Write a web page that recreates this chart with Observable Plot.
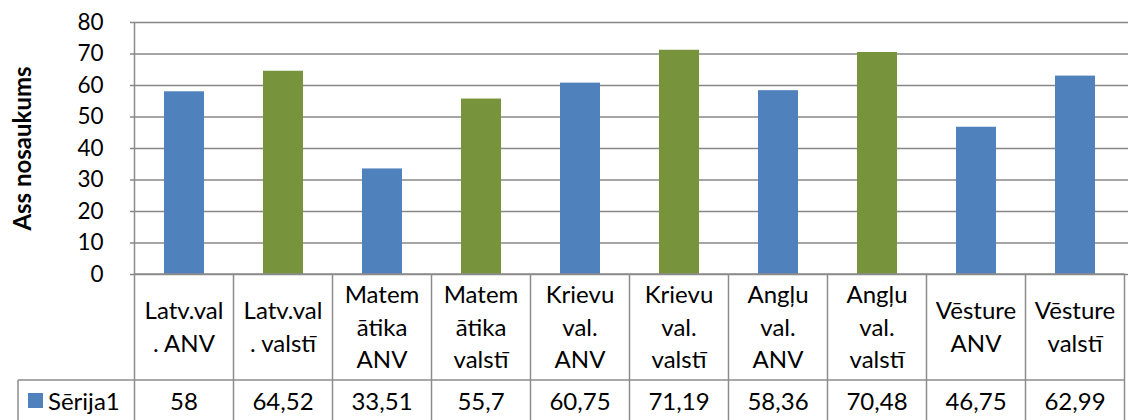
<!DOCTYPE html>
<html><head><meta charset="utf-8">
<script src="https://cdn.jsdelivr.net/npm/d3@7"></script>
<script src="https://cdn.jsdelivr.net/npm/@observablehq/plot@0.6"></script>
<style>body{margin:0;background:#fff}</style>
</head><body><div id="chart"></div>
<script>
const categories = ["Latv.val\n. ANV", "Latv.val\n. valstī", "Matem\nātika\nANV", "Matem\nātika\nvalstī", "Krievu\nval.\nANV", "Krievu\nval.\nvalstī", "Angļu\nval.\nANV", "Angļu\nval.\nvalstī", "Vēsture\nANV", "Vēsture\nvalstī"];
const values = [58, 64.52, 33.51, 55.7, 60.75, 71.19, 58.36, 70.48, 46.75, 62.99];
const valueLabels = ["58", "64,52", "33,51", "55,7", "60,75", "71,19", "58,36", "70,48", "46,75", "62,99"];
const barColors = ["#4F81BD", "#77933C", "#4F81BD", "#77933C", "#4F81BD", "#77933C", "#4F81BD", "#77933C", "#4F81BD", "#4F81BD"];
const seriesName = "Sērija1";
const seriesColor = "#4F81BD";
const yTicks = [0, 10, 20, 30, 40, 50, 60, 70, 80];
const axisTitle = "Ass nosaukums";

const data = categories.map((c, i) => ({cat: c, value: values[i], color: barColors[i]}));
const FONT = "Lato, 'Open Sans', sans-serif";
const gridColor = "#878787";
const lineColor = "#8c8c8c";

const plot = Plot.plot({
  width: 1129,
  height: 420,
  marginLeft: 130,
  marginRight: 1,
  marginTop: 22,
  marginBottom: 146,
  style: {fontFamily: FONT, color: "black", background: "white"},
  x: {domain: categories, paddingInner: 0.6, paddingOuter: 0.3, axis: null},
  y: {domain: [0, 80], axis: null},
  marks: [
    Plot.gridY(yTicks, {stroke: gridColor, strokeOpacity: 1, strokeWidth: 1.5}),
    Plot.barY(data, {x: "cat", y: "value", fill: "color"}),
    Plot.axisY(yTicks, {tickSize: 0, tickPadding: 27, fontSize: 22.5, label: null, fill: "black"}),
    Plot.text([axisTitle], {frameAnchor: "left", textAnchor: "middle", dx: -107, rotate: -90, fontSize: 24, fontWeight: "bold", fill: "black"})
  ]
});

// data table under the chart, positioned with the plot's own scales
const xs = plot.scale("x");
const ys = plot.scale("y");
const step = xs.step, bw = xs.bandwidth;
const y0 = ys.apply(0), yTop = ys.apply(80);
const rowSplit = 380, tableBottom = 422, legendLeft = 18;
const svg = d3.select(plot);
const g = svg.append("g").attr("font-family", FONT).attr("fill", "black");
const left = c => xs.apply(c) - (step - bw) / 2;
const xEnd = left(categories[categories.length - 1]) + step;
const x0 = left(categories[0]);
const line = (x1, y1, x2, y2) => g.append("line").attr("x1", x1).attr("y1", y1).attr("x2", x2).attr("y2", y2)
  .attr("stroke", lineColor).attr("stroke-width", 1.5);
line(x0, yTop, x0, tableBottom);
line(x0, y0, xEnd, y0);
line(legendLeft, rowSplit, xEnd, rowSplit);
line(legendLeft, rowSplit, legendLeft, tableBottom);
categories.forEach((c, i) => {
  const lx = left(c);
  line(lx + step, y0, lx + step, tableBottom);
  const cx = lx + step / 2;
  const lines = c.split("\n");
  const mid = (y0 + rowSplit) / 2;
  lines.forEach((t, k) => {
    g.append("text").attr("x", cx).attr("y", mid + (k - (lines.length - 1) / 2) * 32.5)
      .attr("dy", "0.36em").attr("text-anchor", "middle").attr("font-size", 24).text(t);
  });
  g.append("text").attr("x", cx).attr("y", 401)
    .attr("dy", "0.36em").attr("text-anchor", "middle").attr("font-size", 24).text(valueLabels[i]);
});
g.append("rect").attr("x", 28).attr("y", 393).attr("width", 15).attr("height", 15).attr("fill", seriesColor);
g.append("text").attr("x", 48).attr("y", 401).attr("dy", "0.36em")
  .attr("text-anchor", "start").attr("font-size", 24).text(seriesName);

document.getElementById("chart").append(plot);
</script>
</body></html>
